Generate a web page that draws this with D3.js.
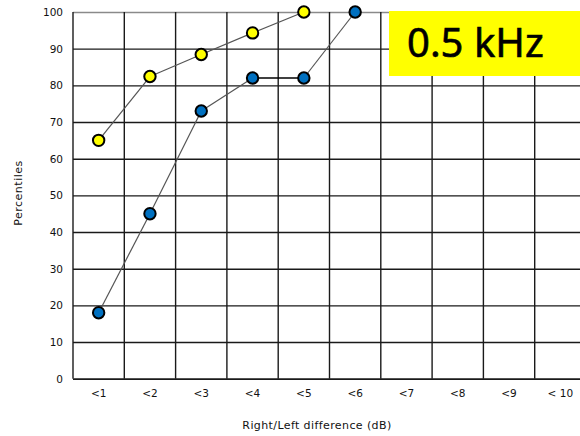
<!DOCTYPE html>
<html>
<head>
<meta charset="utf-8">
<script src="https://cdn.jsdelivr.net/npm/d3@7"></script>
<style>
  html, body { margin: 0; padding: 0; background: #fff; }
  svg { display: block; }
  .tick text { font-family: "DejaVu Sans", sans-serif; font-size: 10.5px; fill: #111; }
</style>
</head>
<body>
<svg id="chart" width="580" height="436"></svg>
<script>
// Difference categories on the x axis
const categories = ["<1", "<2", "<3", "<4", "<5", "<6", "<7", "<8", "<9", "< 10"];
// Percentile values per series (aligned with categories)
const yellowValues = [65, 82.4, 88.4, 94.3, 100];
const blueValues = [18, 45, 73, 82, 82, 100];
const yTicks = [0, 10, 20, 30, 40, 50, 60, 70, 80, 90, 100];

const svg = d3.select("#chart");
const margin = { left: 73, top: 12 };
const plotW = 513, plotH = 366.7;

const x = d3.scaleBand().domain(categories).range([margin.left, margin.left + plotW]).padding(0);
const y = d3.scaleLinear().domain([0, 100]).range([margin.top + plotH, margin.top]);

// Horizontal grid lines and y labels
const yAxis = svg.append("g")
  .attr("transform", `translate(${margin.left},0)`)
  .call(d3.axisLeft(y).tickValues(yTicks).tickSize(-plotW).tickPadding(10).tickFormat(d3.format("d")));
yAxis.select(".domain").remove();
yAxis.selectAll(".tick line")
  .attr("stroke", d => d === 100 ? "#8a8a8a" : "#1a1a1a")
  .attr("stroke-width", 1.4);

// Vertical grid lines at category boundaries
const bounds = categories.map(c => x(c)).concat([x(categories[categories.length - 1]) + x.bandwidth()]);
svg.append("g").selectAll("line").data(bounds).join("line")
  .attr("x1", d => d).attr("x2", d => d)
  .attr("y1", y(100)).attr("y2", y(0))
  .attr("stroke", "#1a1a1a").attr("stroke-width", 1.4);

// X axis labels
const xAxis = svg.append("g")
  .attr("transform", `translate(0,${y(0)})`)
  .call(d3.axisBottom(x).tickSize(0).tickPadding(11));
xAxis.select(".domain").attr("stroke", "#1a1a1a").attr("stroke-width", 1.6);

// Axis titles
svg.append("text")
  .attr("x", 317).attr("y", 429)
  .attr("text-anchor", "middle")
  .attr("font-family", "DejaVu Sans, sans-serif").attr("font-size", 11).attr("letter-spacing", 0.4).attr("fill", "#111")
  .text("Right/Left difference (dB)");
svg.append("text")
  .attr("transform", "translate(22,193) rotate(-90)")
  .attr("text-anchor", "middle")
  .attr("font-family", "DejaVu Sans, sans-serif").attr("font-size", 11).attr("letter-spacing", 0.5).attr("fill", "#111")
  .text("Percentiles");

const cx = (i) => x(categories[i]) + x.bandwidth() / 2;

function drawSeries(values, fill, linkColors) {
  const pts = values.map((v, i) => [cx(i), y(v)]);
  const g = svg.append("g");
  for (let i = 0; i < pts.length - 1; i++) {
    g.append("line")
      .attr("x1", pts[i][0]).attr("y1", pts[i][1])
      .attr("x2", pts[i + 1][0]).attr("y2", pts[i + 1][1])
      .attr("stroke", linkColors(i)).attr("stroke-width", linkColors(i) === "#000" ? 1.6 : 1.2);
  }
  g.selectAll("circle").data(values).join("circle")
    .attr("cx", (d, i) => cx(i)).attr("cy", d => y(d))
    .attr("r", 5.7)
    .attr("fill", fill).attr("stroke", "#000").attr("stroke-width", 2);
}

drawSeries(yellowValues, "#ffff00", () => "#555");
drawSeries(blueValues, "#0070c0", i => (blueValues[i] === blueValues[i + 1] ? "#000" : "#555"));

// Frequency label box
svg.append("rect")
  .attr("x", 389).attr("y", 11).attr("width", 200).attr("height", 65)
  .attr("fill", "#ffff00");
svg.append("text")
  .attr("x", 407).attr("y", 57)
  .attr("font-family", "Noto Sans, sans-serif").attr("font-size", 40).attr("fill", "#000")
  .attr("stroke", "#000").attr("stroke-width", 0.6)
  .text("0.5 kHz");
</script>
</body>
</html>
